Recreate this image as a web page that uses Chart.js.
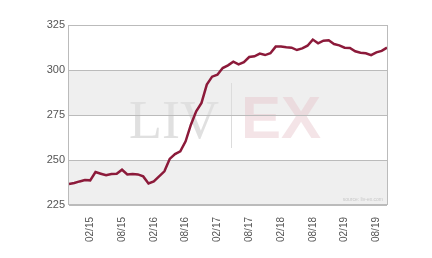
<!DOCTYPE html>
<html>
<head>
<meta charset="utf-8">
<script src="https://cdn.jsdelivr.net/npm/chart.js@4.4.1/dist/chart.umd.min.js"></script>
<style>
  html, body { margin: 0; padding: 0; background: #ffffff; }
  #wrap { width: 432px; height: 258px; position: relative; }
</style>
</head>
<body>
<div id="wrap"><canvas id="grafico" width="432" height="258"></canvas></div>
<script>
// monthly index values, 10/14 .. 10/19
const meses = [
  '10/14','11/14','12/14','01/15','02/15','03/15','04/15','05/15','06/15','07/15','08/15','09/15',
  '10/15','11/15','12/15','01/16','02/16','03/16','04/16','05/16','06/16','07/16','08/16','09/16',
  '10/16','11/16','12/16','01/17','02/17','03/17','04/17','05/17','06/17','07/17','08/17','09/17',
  '10/17','11/17','12/17','01/18','02/18','03/18','04/18','05/18','06/18','07/18','08/18','09/18',
  '10/18','11/18','12/18','01/19','02/19','03/19','04/19','05/19','06/19','07/19','08/19','09/19',
  '10/19'
];
const valores = [
  236.7, 237.2, 238.1, 238.9, 238.7, 243.3, 242.4, 241.5, 242.2, 242.4, 244.6, 242.0,
  242.2, 242.0, 240.9, 237.0, 238.1, 240.9, 243.7, 250.6, 253.3, 254.8, 260.4, 269.6,
  277.0, 281.7, 291.9, 296.3, 297.4, 301.1, 302.6, 304.6, 303.1, 304.3, 307.2, 307.6,
  309.1, 308.3, 309.3, 313.0, 313.0, 312.6, 312.4, 311.1, 312.0, 313.5, 316.9, 314.8,
  316.3, 316.5, 314.4, 313.7, 312.4, 312.2, 310.4, 309.6, 309.3, 308.3, 309.8, 310.6,
  312.4
];
const yTicks = [225, 250, 275, 300, 325];
const etiquetasX = ['02/15','08/15','02/16','08/16','02/17','08/17','02/18','08/18','02/19','08/19'];

// gray bands, watermark and frame
const fondo = {
  id: 'fondo',
  beforeDraw(chart) {
    const { ctx, chartArea: a, scales: { y } } = chart;
    ctx.save();
    ctx.fillStyle = '#efefef';
    for (let i = 0; i < yTicks.length - 1; i += 2) {
      const top = y.getPixelForValue(yTicks[i + 1]);
      const bot = y.getPixelForValue(yTicks[i]);
      ctx.fillRect(a.left, top, a.right - a.left, bot - top);
    }
    // watermark
    ctx.textBaseline = 'alphabetic';
    ctx.fillStyle = '#e0e0e0';
    ctx.font = '54px "Liberation Serif", "DejaVu Serif", serif';
    ctx.textAlign = 'right';
    ctx.fillText('LIV', 219, 138);
    ctx.fillStyle = 'rgba(230, 195, 202, 0.45)';
    ctx.font = 'bold 60px "Liberation Sans", Arial, sans-serif';
    ctx.textAlign = 'left';
    ctx.fillText('EX', 241, 138);
    ctx.strokeStyle = '#dcdcdc';
    ctx.lineWidth = 1;
    ctx.beginPath();
    ctx.moveTo(231.5, 83);
    ctx.lineTo(231.5, 148);
    ctx.stroke();
    // source
    ctx.fillStyle = '#c8c8c8';
    ctx.font = '5px "Liberation Sans", Arial, sans-serif';
    ctx.textAlign = 'right';
    ctx.fillText('source: liv-ex.com', a.right - 4, a.bottom - 4);
    ctx.restore();
  },
  afterDraw(chart) {
    const { ctx, chartArea: a } = chart;
    ctx.save();
    ctx.strokeStyle = '#bbbbbb';
    ctx.lineWidth = 1;
    ctx.strokeRect(Math.round(a.left) - 0.5, Math.round(a.top) + 0.5, Math.round(a.right - a.left) + 1, Math.round(a.bottom - a.top) - 1);
    ctx.restore();
  }
};

const ctx = document.getElementById('grafico').getContext('2d');
new Chart(ctx, {
  type: 'line',
  data: {
    labels: meses,
    datasets: [{
      data: valores,
      borderColor: '#8c1a3a',
      borderWidth: 2.5,
      pointRadius: 0,
      tension: 0,
      fill: false
    }]
  },
  options: {
    responsive: false,
    animation: false,
    layout: { padding: { left: 0, right: 45, top: 25, bottom: 0 } },
    plugins: {
      legend: { display: false },
      tooltip: { enabled: false }
    },
    scales: {
      x: {
        grid: { display: false },
        border: { display: false },
        afterFit(scale) { scale.height = 53; },
        ticks: {
          autoSkip: false,
          maxRotation: 90,
          minRotation: 90,
          padding: 4,
          color: '#555555',
          font: { family: '"Liberation Sans", Arial, sans-serif', size: 10 },
          callback(val, i) {
            const lab = meses[i];
            return etiquetasX.includes(lab) ? lab : null;
          }
        }
      },
      y: {
        min: 225,
        max: 325,
        afterFit(scale) { scale.width = 69; },
        afterBuildTicks(scale) { scale.ticks = yTicks.map(v => ({ value: v })); },
        grid: { color: '#bbbbbb', drawTicks: false, lineWidth: 1 },
        border: { display: false },
        ticks: {
          padding: 4,
          color: '#555555',
          font: { family: '"Liberation Sans", Arial, sans-serif', size: 11 }
        }
      }
    }
  },
  plugins: [fondo]
});
</script>
</body>
</html>
